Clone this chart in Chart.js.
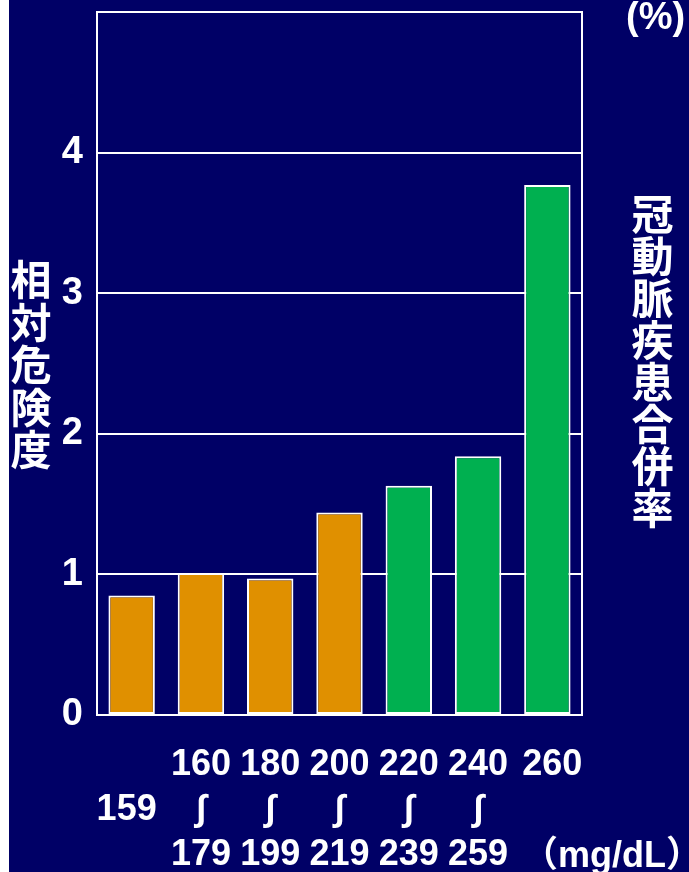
<!DOCTYPE html>
<html>
<head>
<meta charset="utf-8">
<script src="https://cdn.jsdelivr.net/npm/chart.js@4"></script>
<style>
  html, body { margin: 0; padding: 0; background: #ffffff; }
  #page { position: relative; width: 689px; height: 872px; overflow: hidden; background: #ffffff; }
  #panel { position: absolute; left: 9px; top: 0; width: 680px; height: 872px; background: #000066; }
  canvas { display: block; }
  .lbl { position: absolute; color: #ffffff; font-weight: 700; white-space: nowrap; line-height: 1; }
  .vt { writing-mode: vertical-rl; text-orientation: upright; font-family: "Noto Sans CJK JP", sans-serif; }
  .lat { font-family: "Liberation Sans", Arial, "Noto Sans CJK JP", sans-serif; }
</style>
</head>
<body>
<div id="page">
  <div id="panel"><canvas id="chart" width="680" height="872"></canvas></div>
  <div class="lbl vt" style="left:10px; top:259px; font-size:41px; letter-spacing:1.5px;">相対危険度</div>
  <div class="lbl vt" style="left:631px; top:193px; font-size:42px;">冠動脈疾患合併率</div>
  <div class="lbl lat" style="left:626px; top:-3px; font-size:38px;">(%)</div>
  <div class="lbl lat" style="left:522px; top:837px; font-size:36px;">（mg/dL）</div>
</div>
<script>
// Total cholesterol ranges (mg/dL), written as stacked lines: from / ∫ / to
const categories = [
  ['', '159 '],
  ['160', '∫', '179'],
  ['180', '∫', '199'],
  ['200', '∫', '219'],
  ['220', '∫', '239'],
  ['240', '∫', '259'],
  [' 260']
];

// Relative risk of coronary heart disease per range
const relativeRisk = [0.85, 1.01, 0.97, 1.44, 1.63, 1.84, 3.77];

// Left axis ticks
const yTicks = [0, 1, 2, 3, 4];
const yMax = 5;

const ORANGE = '#e09000';
const GREEN = '#00b050';
const WHITE = '#ffffff';

// White frame around the plotting area, drawn under the bars
const framePlugin = {
  id: 'frame',
  beforeDatasetsDraw(chart) {
    const { ctx, chartArea: a } = chart;
    ctx.save();
    ctx.strokeStyle = WHITE;
    ctx.lineWidth = 2;
    ctx.strokeRect(a.left, a.top, a.right - a.left, a.bottom - a.top);
    ctx.restore();
  }
};

new Chart(document.getElementById('chart'), {
  type: 'bar',
  data: {
    labels: categories,
    datasets: [{
      data: relativeRisk,
      backgroundColor: (c) => (c.dataIndex < 4 ? ORANGE : GREEN),
      borderColor: WHITE,
      borderWidth: 2,
      borderSkipped: false,
      barPercentage: 0.67,
      categoryPercentage: 1
    }]
  },
  options: {
    responsive: false,
    animation: false,
    layout: { padding: { top: 12, right: 107, left: 0, bottom: 0 } },
    plugins: { legend: { display: false }, tooltip: { enabled: false } },
    scales: {
      x: {
        grid: { display: false, drawTicks: false },
        border: { display: true, color: WHITE, width: 2 },
        ticks: {
          color: WHITE,
          autoSkip: false,
          maxRotation: 0,
          minRotation: 0,
          padding: 28,
          font: { family: '"Liberation Sans", Arial, "DejaVu Sans", sans-serif', size: 36, weight: 'bold', lineHeight: '45px' }
        },
        afterFit(s) { s.height = 157; s.paddingLeft = 0; s.paddingRight = 0; }
      },
      y: {
        min: 0,
        max: yMax,
        afterBuildTicks(s) { s.ticks = yTicks.concat([yMax]).map(v => ({ value: v })); },
        grid: { color: WHITE, lineWidth: 2, drawTicks: false },
        border: { display: true, color: WHITE, width: 2 },
        ticks: {
          color: WHITE,
          padding: 14,
          callback: (v) => (yTicks.includes(v) ? String(v) : ''),
          font: { family: '"Liberation Sans", Arial, sans-serif', size: 38, weight: 'bold' }
        },
        afterFit(s) { s.width = 88; s.paddingTop = 0; s.paddingBottom = 0; }
      }
    }
  },
  plugins: [framePlugin]
});
</script>
</body>
</html>
